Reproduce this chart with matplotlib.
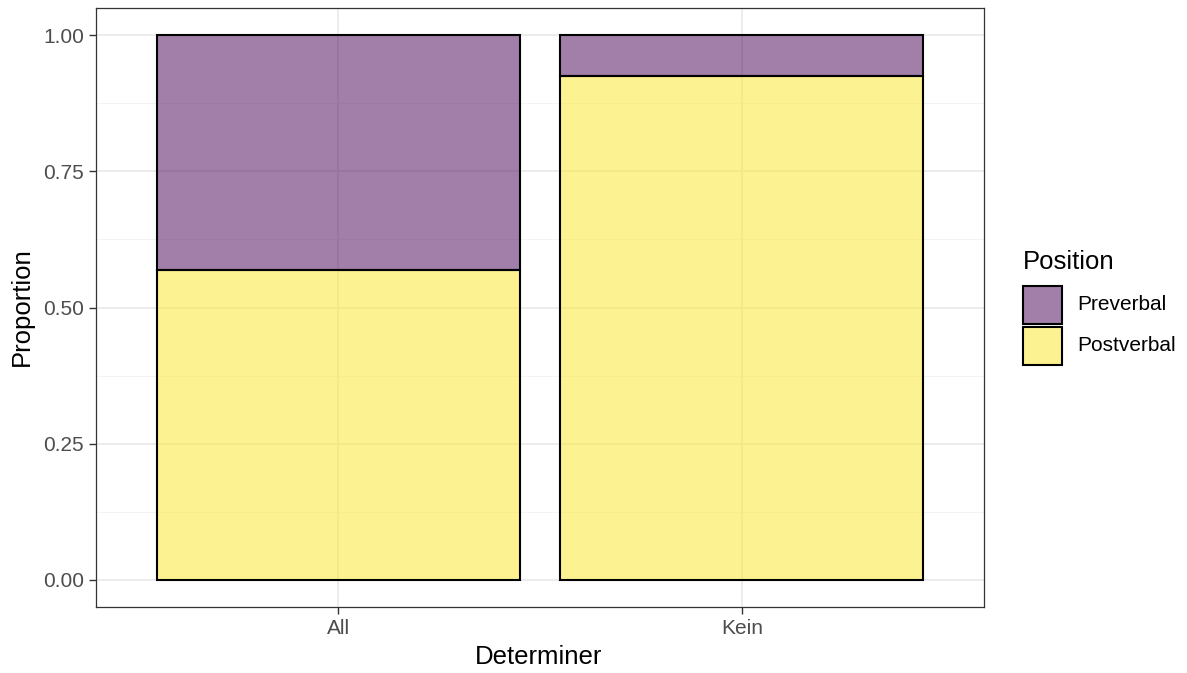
import numpy as np
import matplotlib.pyplot as plt
from matplotlib.patches import Rectangle

# Proportions
determiners = ["All", "Kein"]
postverbal = [0.569, 0.925]
preverbal = [0.431, 0.075]
positions = ["Preverbal", "Postverbal"]
position_colors = ["#440154", "#FDE725"]

W, H = 1187, 673
plt.rcParams["font.family"] = ["Liberation Sans", "DejaVu Sans"]

fig = plt.figure(figsize=(W / 100, H / 100), dpi=100)
ax = fig.add_axes([96 / W, 1 - 607 / H, (984 - 96) / W, (607 - 8) / H])

x = np.arange(1, len(determiners) + 1)
# stacked bars: fill with alpha, then opaque black outlines
ax.bar(x, postverbal, width=0.9, color=position_colors[1], alpha=0.5, zorder=3)
ax.bar(x, preverbal, width=0.9, bottom=postverbal, color=position_colors[0], alpha=0.5, zorder=3)
ax.bar(x, postverbal, width=0.9, fill=False, edgecolor="black", linewidth=1.5, zorder=4)
ax.bar(x, preverbal, width=0.9, bottom=postverbal, fill=False, edgecolor="black", linewidth=1.5, zorder=4)

ax.set_xlim(0.4, 2.6)
ax.set_ylim(-0.05, 1.05)
ax.set_xticks(x)
ax.set_xticklabels(determiners)
ax.set_yticks([0, 0.25, 0.5, 0.75, 1.0])
ax.set_yticklabels(["0.00", "0.25", "0.50", "0.75", "1.00"])
ax.set_yticks([0.125, 0.375, 0.625, 0.875], minor=True)

ax.grid(True, which="major", color="#EBEBEB", linewidth=1.3, zorder=0)
ax.grid(True, which="minor", axis="y", color="#F3F3F3", linewidth=0.7, zorder=0)
ax.tick_params(which="major", length=4.7, width=1, color="#333333",
               labelcolor="#4D4D4D", labelsize=15, pad=4)
ax.tick_params(which="minor", length=0)
for s in ax.spines.values():
    s.set_color("#333333")
    s.set_linewidth(0.9)

# axis titles
fig.text(539 / W, 1 - 664 / H, "Determiner", ha="center", va="baseline", fontsize=18.5)
fig.text(22 / W, 1 - 307 / H, "Proportion", ha="center", va="center", rotation=90, fontsize=18.5)

# legend drawn by hand to match ggplot key sizes
fig.text(1023 / W, 1 - 269 / H, "Position", ha="left", va="baseline", fontsize=18.5)
key_tops = [286, 327]
for label, color, top in zip(positions, position_colors, key_tops):
    fig.patches.append(Rectangle((1023 / W, 1 - (top + 38) / H), 39 / W, 38 / H,
                                 facecolor=color, alpha=0.5, transform=fig.transFigure))
    fig.patches.append(Rectangle((1023 / W, 1 - (top + 38) / H), 39 / W, 38 / H,
                                 fill=False, edgecolor="black", linewidth=1.5,
                                 transform=fig.transFigure))
    fig.text(1077 / W, 1 - (top + 19) / H, label, ha="left", va="center", fontsize=15)

fig.savefig("out.png", dpi=100)
